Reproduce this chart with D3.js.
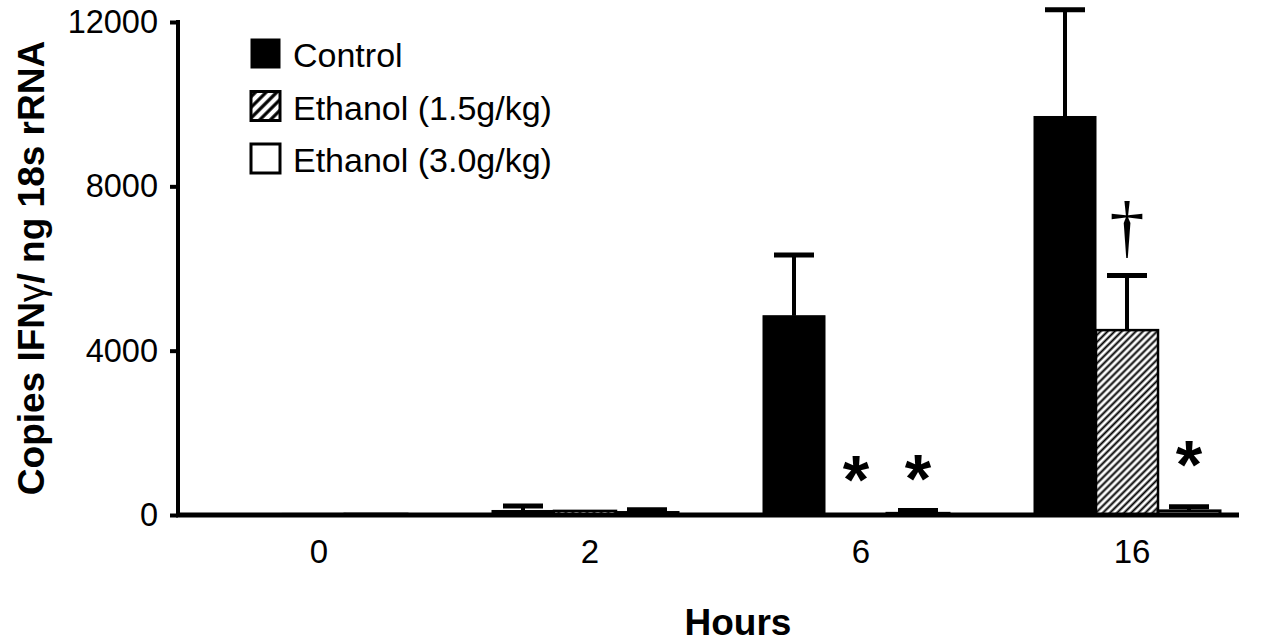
<!DOCTYPE html>
<html>
<head>
<meta charset="utf-8">
<script src="https://cdn.jsdelivr.net/npm/d3@7"></script>
<style>
  body { margin: 0; background: #fff; }
  svg { display: block; font-family: "Liberation Sans", Arial, sans-serif; }
</style>
</head>
<body>
<div id="chart"></div>
<script>
var hours      = ["0", "2", "6", "16"]
var series     = ["Control", "Ethanol (1.5g/kg)", "Ethanol (3.0g/kg)"]
var controlMean = [20, 110, 4850, 9700]
var controlErr  = [0, 110, 1480, 2600]
var eth15Mean   = [20, 100, 10, 4500]
var eth15Err    = [0, 0, 0, 1330]
var eth30Mean   = [20, 60, 40, 100]
var eth30Err    = [0, 70, 70, 100]
var yTicks      = [0, 4000, 8000, 12000]

// significance marks: hour, series index, baseline height in data units
var starMarks   = [["6", 1, 1030], ["6", 2, 1050], ["16", 2, 1380]]
var daggerMarks = [["16", 1, 6460]]

var means = [controlMean, eth15Mean, eth30Mean],
    errs  = [controlErr, eth15Err, eth30Err]

var W = 1265, H = 642

var svg = d3.select("#chart").append("svg")
  .attr("width", W)
  .attr("height", H)

var defs = svg.append("defs")

function hatch(id, gap, sw) { //{{{
  var p = defs.append("pattern")
    .attr("id", id)
    .attr("patternUnits", "userSpaceOnUse")
    .attr("width", gap)
    .attr("height", gap)
    .attr("patternTransform", "rotate(45)")
  p.append("rect").attr("width", gap).attr("height", gap).attr("fill", "#fff")
  p.append("line")
    .attr("x1", gap / 2).attr("x2", gap / 2)
    .attr("y1", 0).attr("y2", gap)
    .attr("stroke", "#000")
    .attr("stroke-width", sw)
} //}}}

hatch("hatchBar", 5, 2)
hatch("hatchKey", 7.5, 3.2)

var y = d3.scaleLinear()
  .domain([0, 12000])
  .range([515, 22])

var xg = d3.scalePoint()
  .domain(hours)
  .range([314, 1127])

var xs = d3.scaleBand()
  .domain(d3.range(series.length))
  .range([-93, 93])

var fills   = ["#000", "url(#hatchBar)", "#fff"],
    strokes = [1, 2.5, 3]

var rows = []
hours.forEach((h, i) => {
  series.forEach((s, j) => rows.push({ h: h, j: j, v: means[j][i], e: errs[j][i] }))
})

var g = svg.append("g")

g.selectAll("rect.bar")
  .data(rows)
  .enter().append("rect")
  .attr("class", "bar")
  .attr("x", d => xg(d.h) + xs(d.j))
  .attr("width", xs.bandwidth())
  .attr("y", d => y(d.v))
  .attr("height", d => y(0) - y(d.v))
  .attr("fill", d => fills[d.j])
  .attr("stroke", "#000")
  .attr("stroke-width", d => strokes[d.j])

// error bars, upper half only
var eb = g.selectAll("g.err")
  .data(rows.filter(d => d.e > 0))
  .enter().append("g")
  .attr("class", "err")

eb.append("line")
  .attr("x1", d => xg(d.h) + xs(d.j) + xs.bandwidth() / 2)
  .attr("x2", d => xg(d.h) + xs(d.j) + xs.bandwidth() / 2)
  .attr("y1", d => y(d.v))
  .attr("y2", d => y(d.v + d.e))
  .attr("stroke", "#000")
  .attr("stroke-width", 4)

eb.append("line")
  .attr("x1", d => xg(d.h) + xs(d.j) + xs.bandwidth() / 2 - 20)
  .attr("x2", d => xg(d.h) + xs(d.j) + xs.bandwidth() / 2 + 20)
  .attr("y1", d => y(d.v + d.e))
  .attr("y2", d => y(d.v + d.e))
  .attr("stroke", "#000")
  .attr("stroke-width", 5)

g.selectAll("text.star")
  .data(starMarks)
  .enter().append("text")
  .attr("class", "star")
  .attr("x", d => xg(d[0]) + xs(d[1]) + xs.bandwidth() / 2)
  .attr("y", d => y(d[2]) + 30)
  .attr("text-anchor", "middle")
  .style("font-size", "68px")
  .style("font-weight", "bold")
  .text("*")

g.selectAll("text.dagger")
  .data(daggerMarks)
  .enter().append("text")
  .attr("class", "dagger")
  .attr("x", d => xg(d[0]) + xs(d[1]) + xs.bandwidth() / 2)
  .attr("y", d => y(d[2]))
  .attr("text-anchor", "middle")
  .style("font-family", "'Liberation Serif', 'Times New Roman', serif")
  .style("font-size", "70px")
  .text("\u2020")

// axes
var yAxis = svg.append("g")
  .attr("transform", "translate(178,0)")
  .call(d3.axisLeft(y).tickValues(yTicks).tickSize(8).tickPadding(12).tickFormat(d3.format("d")))

yAxis.select(".domain")
  .attr("d", "M0," + (y(12000) - 2) + "V" + (y(0) + 2))
  .attr("stroke-width", 4)
yAxis.selectAll(".tick line").attr("stroke-width", 4)
yAxis.selectAll(".tick text")
  .style("font-size", "32.5px")
  .style("font-family", "'Liberation Sans', Arial, sans-serif")
  .attr("fill", "#000")

svg.append("line")
  .attr("x1", 176).attr("x2", 1239)
  .attr("y1", y(0)).attr("y2", y(0))
  .attr("stroke", "#000")
  .attr("stroke-width", 5)

svg.selectAll("text.xlab")
  .data(hours)
  .enter().append("text")
  .attr("class", "xlab")
  .attr("x", d => xg(d) + 5)
  .attr("y", 563)
  .attr("text-anchor", "middle")
  .style("font-size", "33px")
  .text(d => d)

svg.append("text")
  .attr("x", 738)
  .attr("y", 635)
  .attr("text-anchor", "middle")
  .style("font-size", "37px")
  .style("font-weight", "bold")
  .text("Hours")

var ytitle = svg.append("text")
  .attr("transform", "translate(44,268) rotate(-90)")
  .attr("text-anchor", "middle")
  .style("font-size", "37px")
  .style("font-weight", "bold")
ytitle.append("tspan").text("Copies IFN")
ytitle.append("tspan").style("font-weight", "normal").text("\u03b3")
ytitle.append("tspan").text("/ ng 18s rRNA")

// legend
var keyFills = ["#000", "url(#hatchKey)", "#fff"]
var key = svg.append("g")
  .attr("transform", "translate(251,39)")
  .selectAll("g")
  .data(series)
  .enter().append("g")
  .attr("transform", (d, i) => "translate(0," + i * 52.5 + ")")

key.append("rect")
  .attr("width", 29)
  .attr("height", 29)
  .attr("fill", (d, i) => keyFills[i])
  .attr("stroke", "#000")
  .attr("stroke-width", (d, i) => i == 0 ? 1 : 3)

key.append("text")
  .attr("x", 42)
  .attr("y", 28)
  .style("font-size", "34px")
  .text(d => d)
</script>
</body>
</html>
